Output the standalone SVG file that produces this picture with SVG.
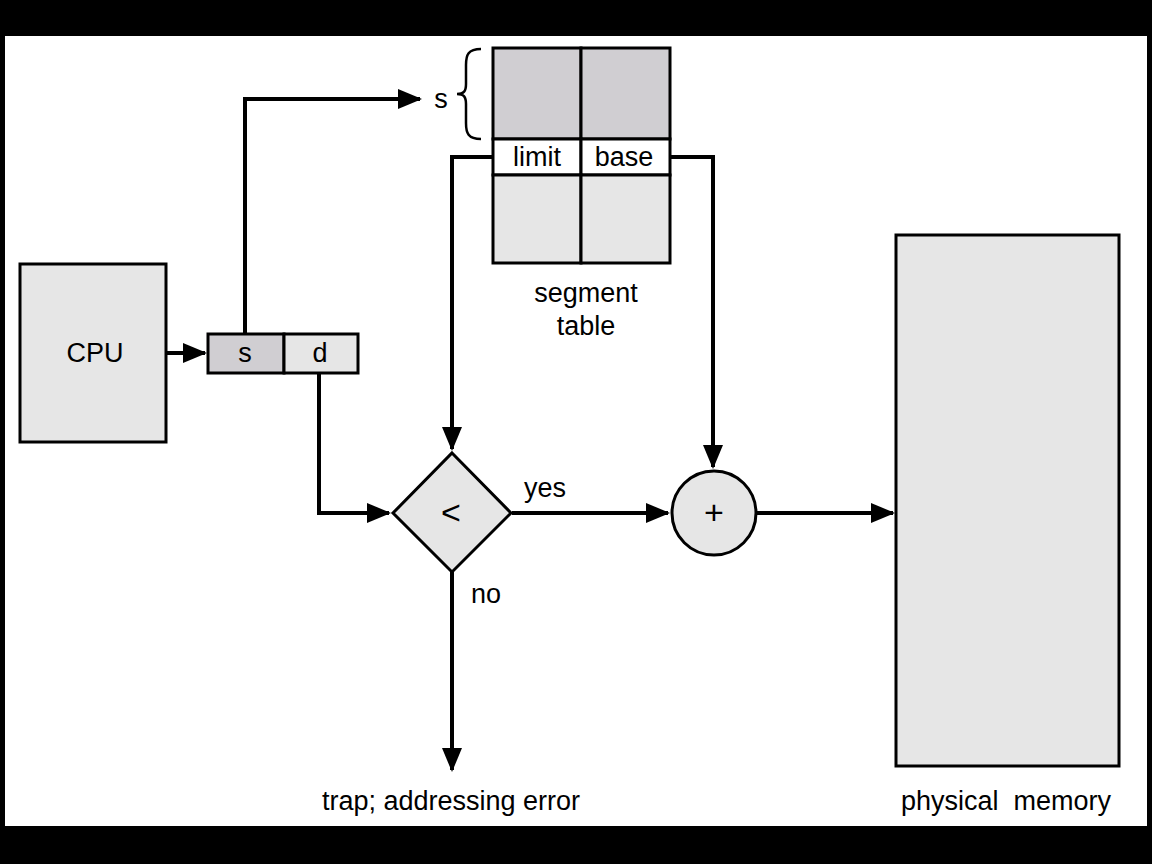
<svg xmlns="http://www.w3.org/2000/svg" width="1152" height="864" viewBox="0 0 1152 864">
<style>
.box{stroke:#000;stroke-width:3}
.lt{fill:#e6e6e6}
.dk{fill:#d0ced2}
.wh{fill:#fff}
.ln{fill:none;stroke:#000;stroke-width:4}
text{font-family:"Liberation Sans",Arial,sans-serif;font-size:27px;fill:#000;text-anchor:middle}
.sym{font-size:34px}
</style>
<defs>
<marker id="ah" markerWidth="6" markerHeight="5" refX="5.5" refY="2.5" orient="auto" markerUnits="strokeWidth">
<path d="M0,0 L6,2.5 L0,5 Z" fill="#000"/>
</marker>
</defs>
<rect x="0" y="0" width="1152" height="864" fill="#000"/>
<rect x="5" y="36" width="1142" height="790" fill="#fff"/>

<g id="connectors">
<path class="ln" d="M167,353 H205" marker-end="url(#ah)"/>
<path class="ln" d="M245,334 V99 H420" marker-end="url(#ah)"/>
<path class="ln" d="M319,374 V513 H389" marker-end="url(#ah)"/>
<path class="ln" d="M493,157 H452 V449" marker-end="url(#ah)"/>
<path class="ln" d="M670,157 H713 V467" marker-end="url(#ah)"/>
<path class="ln" d="M512,513 H668" marker-end="url(#ah)"/>
<path class="ln" d="M757,513 H893" marker-end="url(#ah)"/>
<path class="ln" d="M452,572 V770" marker-end="url(#ah)"/>
</g>

<g id="cpu">
<rect class="box lt" x="20" y="264" width="146" height="178"/>
<text x="95" y="362">CPU</text>
</g>

<g id="address">
<rect class="box dk" x="208" y="334" width="76" height="39"/>
<rect class="box lt" x="284" y="334" width="74" height="39"/>
<text x="245" y="362">s</text>
<text x="320" y="362">d</text>
</g>

<g id="segment-table">
<rect class="box dk" x="493" y="48" width="88" height="91"/>
<rect class="box dk" x="581" y="48" width="89" height="91"/>
<rect class="box wh" x="493" y="139" width="88" height="36"/>
<rect class="box wh" x="581" y="139" width="89" height="36"/>
<rect class="box lt" x="493" y="175" width="88" height="88"/>
<rect class="box lt" x="581" y="175" width="89" height="88"/>
<text x="537" y="166">limit</text>
<text x="624" y="166">base</text>
<path d="M481,49 C468,49 466,55 466,65 V84 C466,91 464,94 457,94 C464,94 466,97 466,104 V123 C466,133 468,139 481,139" fill="none" stroke="#000" stroke-width="2.5"/>
<text x="441" y="108">s</text>
<text x="586" y="302">segment</text>
<text x="586" y="335">table</text>
</g>

<g id="compare">
<path class="box lt" d="M452,453 L511,513 L452,572 L393,513 Z"/>
<text class="sym" x="451" y="524">&lt;</text>
<text x="545" y="497">yes</text>
<text x="486" y="603">no</text>
</g>

<g id="adder">
<circle class="box lt" cx="714" cy="513" r="42"/>
<text class="sym" x="714" y="524">+</text>
</g>

<g id="memory">
<rect class="box lt" x="896" y="235" width="223" height="531"/>
<text x="1006" y="810" xml:space="preserve">physical  memory</text>
</g>

<g id="trap">
<text x="451" y="810">trap; addressing error</text>
</g>
</svg>
